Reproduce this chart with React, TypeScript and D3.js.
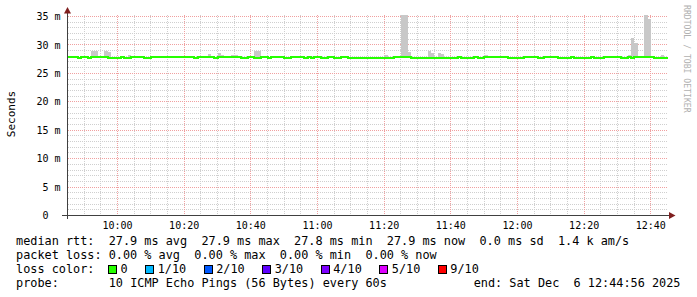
import React from "react";
import * as d3 from "d3";

const W = 697;
const H = 297;

// Y axis ticks (milliseconds, labelled as "m")
const yTicks = [0, 5, 10, 15, 20, 25, 30, 35];

// Median RTT as step runs: [start time, value in ms]
const medianRuns: [string, number][] = [
  ["09:45", 27.9], ["09:48", 27.7], ["09:49", 27.9], ["09:51", 27.7], ["09:52", 27.9],
  ["09:57", 27.7], ["10:01", 27.9], ["10:02", 27.7], ["10:04", 27.9], ["10:08", 27.7],
  ["10:10", 27.9], ["10:23", 27.7], ["10:24", 27.9], ["10:29", 27.7], ["10:30", 27.9],
  ["10:37", 27.7], ["10:39", 27.9], ["10:41", 27.7], ["10:43", 27.9], ["10:45", 27.7],
  ["10:46", 27.9], ["10:50", 27.7], ["10:52", 27.9], ["10:56", 27.7], ["10:57", 27.9],
  ["10:58", 27.7], ["10:59", 27.9], ["11:01", 27.7], ["11:03", 27.9], ["11:05", 27.7],
  ["11:07", 27.9], ["11:09", 27.7], ["11:23", 27.9], ["11:28", 27.7], ["11:42", 27.9],
  ["11:43", 27.7], ["11:47", 27.9], ["11:48", 27.7], ["11:50", 27.9], ["11:57", 27.7],
  ["12:02", 27.9], ["12:06", 27.7], ["12:08", 27.9], ["12:12", 27.7], ["12:16", 27.9],
  ["12:17", 27.7], ["12:22", 27.9], ["12:23", 27.7], ["12:26", 27.9], ["12:31", 27.7],
  ["12:33", 27.9], ["12:34", 27.7], ["12:35", 27.9], ["12:41", 27.7],
];
const medianEnd = "12:44";
const smokeBase = 27.9;

// Smoke (max ping of the 10 probes) per minute: [time, value in ms]
const smoke: [string, number][] = [
  ["09:52", 29.0], ["09:53", 29.0], ["09:56", 29.0], ["09:57", 28.8], ["10:03", 28.3],
  ["10:27", 28.4], ["10:30", 28.6], ["10:31", 28.3], ["10:34", 28.2], ["10:35", 28.2],
  ["10:41", 29.0], ["10:42", 28.9], ["11:20", 28.2], ["11:25", 35.3], ["11:26", 35.3],
  ["11:27", 28.7], ["11:33", 28.9], ["11:34", 28.6], ["11:36", 28.6], ["11:37", 28.4],
  ["11:50", 28.2], ["12:33", 28.3], ["12:34", 31.2], ["12:35", 30.3], ["12:38", 35.3],
  ["12:39", 34.5], ["12:43", 28.3],
];

const legendLines = [
  "median rtt:  27.9 ms avg  27.9 ms max  27.8 ms min  27.9 ms now  0.0 ms sd  1.4 k am/s",
  "packet loss: 0.00 % avg  0.00 % max  0.00 % min  0.00 % now",
];
const lossLabels = ["0", "1/10", "2/10", "3/10", "4/10", "5/10", "9/10"];
const lossColors = ["#26ff00", "#00b8ff", "#0059ff", "#5e00ff", "#7e00ff", "#dd00ff", "#ff0000"];
const probeText = "10 ICMP Echo Pings (56 Bytes) every 60s";
const endText = "end: Sat Dec  6 12:44:56 2025";

const parse = (s: string) => {
  const [h, m] = s.split(":").map(Number);
  return new Date(2025, 11, 6, h, m);
};

const MONO = "'DejaVu Sans Mono', monospace";

export default function App() {
  const x = d3.scaleTime().domain([parse("09:45"), parse("12:45")]).range([67.5, 667.5]);
  const y = d3.scaleLinear().domain([0, 35]).range([215.5, 16.5]);
  const plotTop = y(35.5);
  const plotLeft = x.range()[0];
  const plotRight = x.range()[1];

  const minorY = d3.range(1, 36).filter((v) => v % 5 !== 0);
  const minorX = d3.timeMinute.every(5)!.range(x.domain()[0], x.domain()[1]).filter((d) => d.getMinutes() % 20 !== 0 && +d !== +x.domain()[0]);
  const majorX = x.ticks(d3.timeMinute.every(20)!);

  const lineData: [Date, number][] = medianRuns.map(([t, v]) => [parse(t), v]);
  lineData.push([d3.timeMinute.offset(parse(medianEnd), 1), medianRuns[medianRuns.length - 1][1]]);
  const line = d3
    .line<[Date, number]>()
    .x((d) => x(d[0]))
    .y((d) => y(d[1]))
    .curve(d3.curveStepAfter);

  const fmt = d3.timeFormat("%H:%M");
  const cw = 11.85 * 0.602;

  // loss color legend layout
  let lx = 108.5;
  const lossItems = lossLabels.map((lab, i) => {
    const item = { lab, color: lossColors[i], bx: lx, tx: lx + 12 };
    lx = lx + 12 + lab.length * cw + 18;
    return item;
  });

  return (
    <svg
      width={W}
      height={H}
      style={{ position: "absolute", left: 0, top: 0, background: "#fff" }}
      fontFamily={MONO}
    >
      <rect x={0} y={0} width={W} height={H} fill="#fff" />
      {/* minor grid */}
      <g stroke="#cfcfcf" strokeWidth={1} strokeDasharray="1,1" shapeRendering="crispEdges">
        {minorY.map((v) => (
          <line key={"my" + v} x1={plotLeft} x2={plotRight} y1={y(v)} y2={y(v)} />
        ))}
        {minorX.map((d) => (
          <line key={"mx" + +d} x1={x(d)} x2={x(d)} y1={y(0)} y2={plotTop} />
        ))}
      </g>
      {/* major grid */}
      <g stroke="#f0a0a0" strokeWidth={1} strokeDasharray="1,1" shapeRendering="crispEdges">
        {yTicks.filter((v) => v > 0).map((v) => (
          <line key={"My" + v} x1={plotLeft} x2={plotRight} y1={y(v)} y2={y(v)} />
        ))}
        {majorX.map((d) => (
          <line key={"Mx" + +d} x1={x(d)} x2={x(d)} y1={y(0)} y2={plotTop} />
        ))}
      </g>
      {/* smoke */}
      <g fill="#c8c8c8" shapeRendering="crispEdges">
        {smoke.map(([t, v]) => {
          const d0 = parse(t);
          const d1 = d3.timeMinute.offset(d0, 1);
          return (
            <rect key={t} x={x(d0)} width={x(d1) - x(d0)} y={y(v)} height={y(smokeBase) - y(v)} />
          );
        })}
      </g>
      {/* median line */}
      <path d={line(lineData) || ""} fill="none" stroke="#26ff00" strokeWidth={2} shapeRendering="crispEdges" />
      {/* axes */}
      <g stroke="#404040" strokeWidth={1} shapeRendering="crispEdges">
        <line x1={62} x2={670} y1={y(0)} y2={y(0)} />
        <line x1={plotLeft} x2={plotLeft} y1={219} y2={12} />
      </g>
      <path d={`M${plotLeft - 3.5},13.5 L${plotLeft + 3.5},13.5 L${plotLeft},7 Z`} fill="#7f1f1f" />
      <path d={`M669,${y(0) - 3.5} L669,${y(0) + 3.5} L675.5,${y(0)} Z`} fill="#7f1f1f" />
      {/* y labels */}
      <g fontSize={10} fill="#000" textAnchor="end">
        {yTicks.map((v) => (
          <text key={"yl" + v} x={60.5} y={y(v) + 3.6} xmlSpace="preserve">
            {v === 0 ? "0  " : `${v} m`}
          </text>
        ))}
      </g>
      {/* x labels */}
      <g fontSize={10} fill="#000" textAnchor="middle">
        {majorX.map((d) => (
          <text key={"xl" + +d} x={x(d)} y={229}>
            {fmt(d)}
          </text>
        ))}
      </g>
      {/* axis title */}
      <text transform="translate(15,114) rotate(-90)" fontSize={11} textAnchor="middle" fill="#000">
        Seconds
      </text>
      {/* watermark */}
      <text transform="translate(684,5) rotate(90)" fontSize={8.15} fill="#b0b0b0">
        RRDTOOL / TOBI OETIKER
      </text>
      {/* legend */}
      <g fontSize={11.85} fill="#000">
        {legendLines.map((s, i) => (
          <text key={"lg" + i} x={16} y={245 + i * 14} xmlSpace="preserve">
            {s}
          </text>
        ))}
        <text x={16} y={273}>loss color:</text>
        {lossItems.map((it) => (
          <g key={it.lab}>
            <rect x={it.bx} y={265.5} width={8} height={8} fill={it.color} stroke="#000" strokeWidth={1} shapeRendering="crispEdges" />
            <text x={it.tx} y={273}>
              {it.lab}
            </text>
          </g>
        ))}
        <text x={16} y={287}>probe:</text>
        <text x={16 + 13 * cw} y={287}>{probeText}</text>
        <text x={680.5} y={287} textAnchor="end" xmlSpace="preserve">
          {endText}
        </text>
      </g>
    </svg>
  );
}
